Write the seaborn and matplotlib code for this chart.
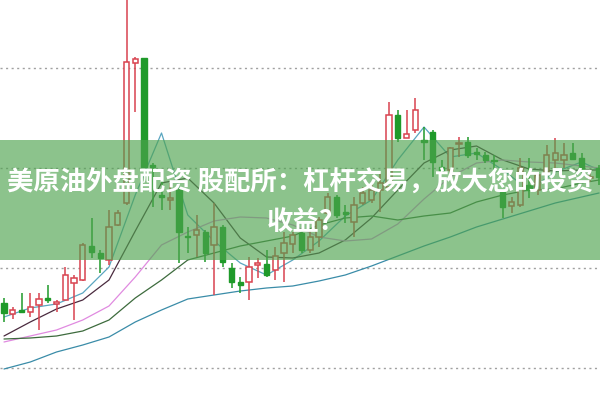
import numpy as np
import pandas as pd
import seaborn as sns
import matplotlib.pyplot as plt
from matplotlib.patches import Rectangle

# candle data (open, close, high, low)
opens = [46.5, 45.4, 45.8, 45.6, 46.3, 47.0, 46.4, 46.8, 48.5, 48.8,
         52.2, 51.5, 50.8, 54.3, 56.5, 70.5, 71.0, 60.3, 57.3, 56.8,
         57.8, 53.2, 53.3, 53.6, 52.3, 54.1, 50.0, 48.6, 48.6, 50.3,
         50.4, 49.8, 51.5, 52.4, 53.5, 51.8, 53.1, 55.5, 57.1, 55.6,
         54.6, 56.5, 56.8, 57.8, 58.1, 65.3, 63.0, 63.8, 62.8, 63.6,
         60.1, 59.8, 62.4, 62.6, 61.6, 61.3, 60.8, 57.6, 56.2, 56.3,
         58.3, 57.8, 59.6, 60.8, 60.8, 61.5, 61.0, 59.0, 60.0]
closes = [45.5, 45.8, 45.6, 46.1, 46.9, 46.8, 46.6, 49.3, 49.0, 52.3,
          51.6, 51.0, 54.1, 55.5, 70.6, 70.9, 60.1, 60.1, 57.1, 57.0,
          53.6, 53.1, 53.8, 51.5, 54.1, 50.6, 48.6, 48.3, 50.1, 50.5,
          49.3, 51.2, 52.5, 53.3, 51.8, 53.1, 54.8, 57.1, 55.3, 55.4,
          56.3, 57.5, 57.8, 58.5, 65.3, 63.0, 63.4, 65.8, 62.6, 60.6,
          59.6, 62.0, 62.5, 61.3, 61.4, 60.8, 60.7, 56.1, 56.6, 60.0,
          57.8, 59.3, 61.3, 61.5, 61.3, 60.9, 59.9, 59.1, 59.1]
highs = [47.0, 46.1, 47.5, 47.5, 47.5, 48.3, 46.8, 50.1, 49.3, 52.5,
         55.0, 51.8, 55.8, 55.8, 77.5, 71.1, 71.0, 60.5, 59.8, 58.5,
         58.0, 54.1, 55.3, 53.8, 56.5, 54.3, 50.5, 49.1, 51.1, 51.0,
         51.8, 52.1, 53.6, 53.6, 53.8, 53.8, 55.1, 57.5, 57.3, 56.3,
         57.1, 58.1, 58.5, 59.5, 66.6, 65.8, 65.8, 67.0, 64.1, 63.8,
         60.8, 62.1, 63.1, 63.1, 62.0, 61.6, 61.3, 57.8, 57.1, 61.0,
         61.0, 59.6, 62.3, 63.0, 62.5, 62.5, 61.5, 59.8, 60.3]
lows = [44.6, 44.9, 45.5, 45.1, 43.8, 46.5, 45.6, 46.8, 44.8, 48.7,
        51.0, 49.5, 50.3, 54.2, 56.3, 65.6, 60.0, 56.1, 55.8, 55.8,
        50.5, 51.5, 51.1, 50.6, 47.3, 50.1, 48.0, 47.5, 46.8, 49.0,
        49.1, 48.8, 48.6, 51.5, 51.5, 51.5, 52.1, 55.1, 55.0, 54.5,
        53.1, 56.3, 56.5, 55.6, 58.0, 62.6, 63.0, 63.5, 60.8, 59.1,
        59.5, 59.3, 61.1, 61.0, 60.8, 60.5, 59.8, 55.0, 55.5, 56.1,
        57.0, 57.3, 59.3, 60.0, 60.0, 60.8, 59.5, 58.6, 58.3]

# moving average lines, read every third candle
ma_idx = [0, 3, 6, 9, 12, 15, 18, 21, 24, 27, 30, 33, 36, 39, 42, 45,
          48, 51, 54, 57, 60, 63, 66, 68]
ma5 = [45.1, 46.0, 46.4, 47.5, 50.1, 57.3, 63.5, 55.3, 52.7, 50.5, 49.3, 50.8,
       52.7, 55.2, 56.8, 60.8, 64.1, 61.1, 61.5, 59.8, 57.8, 59.6, 60.6, 59.8]
ma10 = [43.2, 44.6, 45.9, 46.8, 48.8, 53.7, 58.5, 59.0, 56.5, 53.0, 51.1, 51.0,
        51.5, 52.8, 55.0, 57.8, 60.5, 61.8, 62.2, 60.8, 59.9, 59.7, 59.8, 59.8]
ma20 = [42.6, 43.2, 43.8, 44.8, 46.2, 49.1, 52.3, 53.6, 54.7, 55.1, 55.0, 54.3,
        53.1, 52.7, 52.9, 54.4, 56.9, 59.1, 60.5, 60.8, 60.6, 60.5, 60.2, 60.0]
ma30 = [42.9, 43.0, 43.2, 43.7, 44.8, 47.0, 48.8, 50.8, 51.5, 52.2, 52.7, 53.2,
        54.3, 55.0, 55.2, 54.8, 55.2, 55.5, 56.6, 57.3, 57.8, 57.9, 58.5, 58.8]
ma60 = [39.9, 40.6, 41.6, 42.3, 43.1, 44.6, 45.8, 46.9, 47.3, 47.7, 48.0, 48.2,
        48.7, 49.3, 50.2, 51.2, 52.2, 53.1, 54.1, 54.9, 55.7, 56.5, 57.1, 57.5]

title_line1 = "美原油外盘配资 股配所：杠杆交易，放大您的投资"
title_line2 = "收益?"

sns.set_theme(style="white")
plt.rcParams['font.family'] = ['Noto Sans CJK SC', 'DejaVu Sans']

fig = plt.figure(figsize=(6, 4.01), dpi=100)
ax = fig.add_axes([0, 0, 1, 1])

# dotted price grid
for lvl in [40, 50, 60, 70]:
    ax.axhline(lvl, color="#a0a0a0", linestyle=(0, (1.5, 2.5)), linewidth=1, zorder=0)

# moving averages through seaborn
ma_df = pd.DataFrame({"idx": ma_idx, "MA5": ma5, "MA10": ma10, "MA20": ma20,
                      "MA30": ma30, "MA60": ma60})
ma_long = ma_df.melt(id_vars="idx", var_name="ma", value_name="price")
ma_colors = {"MA5": "#5aa6c0", "MA10": "#4a2a3e", "MA20": "#e08ae0",
             "MA30": "#3d6b3d", "MA60": "#3a8ca8"}
sns.lineplot(data=ma_long, x="idx", y="price", hue="ma", palette=ma_colors,
             linewidth=0.9, legend=False, ax=ax, zorder=2)

# candles
red = "#d8434f"
green = "#1f9a2a"
w = 0.62
for i in range(len(opens)):
    o, c, h, l = opens[i], closes[i], highs[i], lows[i]
    up = c >= o
    col = red if up else green
    ax.vlines(i, l, h, color=col, linewidth=1.1, zorder=3)
    bottom = min(o, c)
    height = max(abs(c - o), 0.12)
    if up:
        ax.bar(i, height, bottom=bottom, width=w, facecolor="white",
               edgecolor=col, linewidth=1.1, zorder=4)
    else:
        ax.bar(i, height, bottom=bottom, width=w, facecolor=col,
               edgecolor=col, linewidth=1, zorder=4)

ax.set_xlim(-0.457, 68.11)
ax.set_ylim(36.7, 76.8)
ax.set_axis_off()

# translucent green banner with the headline
ax.add_patch(Rectangle((0, 1 - 260 / 401), 1, 120 / 401, transform=ax.transAxes,
                       facecolor=(78 / 255, 163 / 255, 78 / 255), alpha=0.65,
                       edgecolor="none", zorder=10))
ax.text(0.5, 1 - 183 / 401, title_line1, transform=ax.transAxes, ha="center",
        va="center", color="white", fontsize=19, fontweight="bold", zorder=11)
ax.text(0.5, 1 - 222 / 401, title_line2, transform=ax.transAxes, ha="center",
        va="center", color="white", fontsize=19, fontweight="bold", zorder=11)

fig.savefig("out.png", dpi=100)
